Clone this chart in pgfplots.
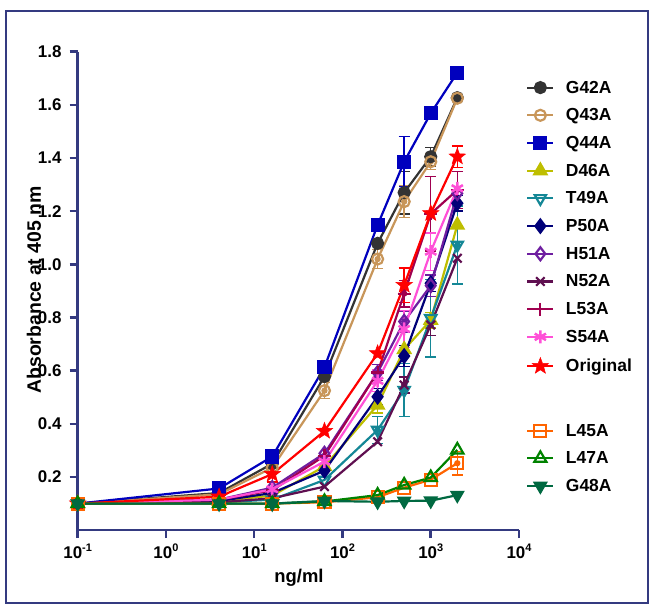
\documentclass[border=0pt]{standalone}
\usepackage{fontspec}
\setmainfont{Liberation Sans}
\usepackage{pgfplots}
\pgfplotsset{compat=1.18}
\usetikzlibrary{plotmarks}
\definecolor{axc}{RGB}{52,58,128}
\definecolor{cg42}{RGB}{51,51,51}
\definecolor{cq43}{RGB}{200,150,90}
\definecolor{cq44}{RGB}{0,0,190}
\definecolor{cd46}{RGB}{190,190,0}
\definecolor{ct49}{RGB}{20,135,150}
\definecolor{cp50}{RGB}{0,0,120}
\definecolor{ch51}{RGB}{110,30,160}
\definecolor{cn52}{RGB}{95,15,80}
\definecolor{cl53}{RGB}{160,0,80}
\definecolor{cs54}{RGB}{255,80,215}
\definecolor{corig}{RGB}{255,0,0}
\definecolor{cl45}{RGB}{255,100,0}
\definecolor{cl47}{RGB}{0,130,0}
\definecolor{cg48}{RGB}{0,105,65}
\pgfdeclareplotmark{fstar}{%
  \pgfpathmoveto{\pgfpointpolar{90}{1.15\pgfplotmarksize}}%
  \pgfpathlineto{\pgfpointpolar{126}{0.48\pgfplotmarksize}}%
  \pgfpathlineto{\pgfpointpolar{162}{1.15\pgfplotmarksize}}%
  \pgfpathlineto{\pgfpointpolar{198}{0.48\pgfplotmarksize}}%
  \pgfpathlineto{\pgfpointpolar{234}{1.15\pgfplotmarksize}}%
  \pgfpathlineto{\pgfpointpolar{270}{0.48\pgfplotmarksize}}%
  \pgfpathlineto{\pgfpointpolar{306}{1.15\pgfplotmarksize}}%
  \pgfpathlineto{\pgfpointpolar{342}{0.48\pgfplotmarksize}}%
  \pgfpathlineto{\pgfpointpolar{18}{1.15\pgfplotmarksize}}%
  \pgfpathlineto{\pgfpointpolar{54}{0.48\pgfplotmarksize}}%
  \pgfpathclose\pgfusepathqfillstroke}
\newcommand\ls{\rule[-3bp]{0pt}{15.5bp}}
\newcommand\sx[1]{10\raisebox{6.5bp}{\fontsize{11}{12}\selectfont #1}}
\begin{document}
\begin{tikzpicture}
\useasboundingbox (0,0) rectangle (672bp,609bp);
\draw[axc, line width=2bp] (6bp,6bp) rectangle (648bp,598bp);
\begin{axis}[
  at={(77.7bp,78.8bp)}, anchor=south west,
  scale only axis, width=441.3bp, height=478.5bp,
  xmode=log, xmin=0.1, xmax=10000, ymin=0, ymax=1.8,
  axis lines=left, clip=false,
  axis line style={-, draw=axc, line width=2.5bp},
  xtick={0.1,1,10,100,1000,10000},
  xticklabels={\sx{-1},\sx{0},\sx{1},\sx{2},\sx{3},\sx{4}},
  xminorticks=false, yminorticks=false,
  ytick={0.2,0.4,0.6,0.8,1.0,1.2,1.4,1.6,1.8},
  tick align=outside, major tick length=8bp,
  every tick/.style={draw=axc, line width=2.5bp},
  /pgf/number format/.cd, fixed, fixed zerofill, precision=1, assume math mode=true, /pgfplots/.cd,
  tick label style={font=\bfseries\fontsize{17}{20}\selectfont, text=black},
  yticklabel style={anchor=east, inner sep=0pt, xshift=-8bp},
  xticklabel style={anchor=base, inner sep=0pt, yshift=-20bp},
  xlabel={ng/ml}, ylabel={Absorbance at 405 nm},
  every axis x label/.style={at={(axis description cs:0.5015,-0.1)}, anchor=center, font=\bfseries\fontsize{18.5}{22}\selectfont},
  every axis y label/.style={at={(axis description cs:-0.099,0.502)}, anchor=center, rotate=90, font=\bfseries\fontsize{19.5}{22}\selectfont},
  legend style={draw=none, fill=none, at={(axis description cs:1.016,0.94)}, anchor=north west, inner sep=0pt, row sep=13.7bp, column sep=11.5bp, font=\bfseries\fontsize{17.5}{20}\selectfont, nodes={inner sep=0pt}},
  legend cell align=left,
  legend image code/.code={\draw[mark repeat=2,mark phase=2] plot coordinates {(0bp,0bp) (13bp,0bp) (26bp,0bp)};},
  every axis plot/.append style={line width=2.2bp},
  error bars/error mark options={rotate=90, mark size=5.5bp, line width=1.4bp},
  error bars/error bar style={line width=1.4bp},
]
% error bars (drawn first)
\addplot[forget plot, only marks, mark=none, cg42, error bars/.cd, y dir=both, y explicit] coordinates {(500,1.27) +- (0,0.08) (1000,1.405) +- (0,0.035)};
\addplot[forget plot, only marks, mark=none, cq43, error bars/.cd, y dir=both, y explicit] coordinates {(16,0.235) +- (0,0.015) (62.5,0.525) +- (0,0.03) (250,1.02) +- (0,0.035) (500,1.236) +- (0,0.06) (1000,1.386) +- (0,0.03)};
\addplot[forget plot, only marks, mark=none, cq44, error bars/.cd, y dir=both, y explicit] coordinates {(500,1.386) +- (0,0.094)};
\addplot[forget plot, only marks, mark=none, cd46, error bars/.cd, y dir=both, y explicit] coordinates {(250,0.471) +- (0,0.03) (1000,0.79) +- (0,0.03)};
\addplot[forget plot, only marks, mark=none, ct49, error bars/.cd, y dir=both, y explicit] coordinates {(250,0.377) +- (0,0.05) (500,0.527) +- (0,0.1) (1000,0.797) +- (0,0.145) (2000,1.073) +- (0,0.147)};
\addplot[forget plot, only marks, mark=none, cp50, error bars/.cd, y dir=both, y explicit] coordinates {(250,0.502) +- (0,0.03) (500,0.655) +- (0,0.04) (1000,0.929) +- (0,0.03) (2000,1.23) +- (0,0.03)};
\addplot[forget plot, only marks, mark=none, ch51, error bars/.cd, y dir=both, y explicit] coordinates {(250,0.593) +- (0,0.03) (500,0.785) +- (0,0.04) (1000,0.92) +- (0,0.04)};
\addplot[forget plot, only marks, mark=none, cn52, error bars/.cd, y dir=both, y explicit] coordinates {(500,0.546) +- (0,0.03) (1000,0.772) +- (0,0.04)};
\addplot[forget plot, only marks, mark=none, cl53, error bars/.cd, y dir=both, y explicit] coordinates {(500,0.89) +- (0,0.05) (1000,1.19) +- (0,0.14) (2000,1.28) +- (0,0.07)};
\addplot[forget plot, only marks, mark=none, cs54, error bars/.cd, y dir=both, y explicit] coordinates {(250,0.562) +- (0,0.04) (500,0.757) +- (0,0.07) (1000,1.048) +- (0,0.07)};
\addplot[forget plot, only marks, mark=none, corig, error bars/.cd, y dir=both, y explicit] coordinates {(16,0.211) +- (0,0.03) (500,0.922) +- (0,0.065) (2000,1.405) +- (0,0.04)};
\addplot[forget plot, only marks, mark=none, cl45, error bars/.cd, y dir=both, y explicit] coordinates {(2000,0.252) +- (0,0.045)};
% series
\addplot[cg42, mark=*, mark size=5.5bp] coordinates {(0.1,0.10) (4,0.14) (16,0.25) (62.5,0.578) (250,1.079) (500,1.27) (1000,1.405) (2000,1.627)};
\addlegendentry{\ls G42A}
\addplot[cq43, mark=o, mark size=5.5bp, mark options={fill=white}] coordinates {(0.1,0.10) (4,0.135) (16,0.235) (62.5,0.525) (250,1.02) (500,1.236) (1000,1.386) (2000,1.625)};
\addlegendentry{\ls Q43A}
\addplot[cq44, mark=square*, mark size=6bp] coordinates {(0.1,0.10) (4,0.157) (16,0.277) (62.5,0.613) (250,1.148) (500,1.386) (1000,1.568) (2000,1.721)};
\addlegendentry{\ls Q44A}
\addplot[cd46, mark=triangle*, mark size=7bp] coordinates {(0.1,0.10) (4,0.11) (16,0.13) (62.5,0.24) (250,0.471) (500,0.68) (1000,0.79) (2000,1.148)};
\addlegendentry{\ls D46A}
\addplot[ct49, mark=triangle, mark size=6.5bp, mark options={rotate=180, fill=white}] coordinates {(0.1,0.10) (4,0.105) (16,0.115) (62.5,0.189) (250,0.377) (500,0.527) (1000,0.797) (2000,1.073)};
\addlegendentry{\ls T49A}
\addplot[cp50, mark=diamond*, mark size=6.5bp] coordinates {(0.1,0.10) (4,0.11) (16,0.14) (62.5,0.224) (250,0.502) (500,0.655) (1000,0.929) (2000,1.23)};
\addlegendentry{\ls P50A}
\addplot[ch51, mark=diamond, mark size=6.5bp, mark options={fill=white}] coordinates {(0.1,0.10) (4,0.115) (16,0.16) (62.5,0.289) (250,0.593) (500,0.785) (1000,0.92) (2000,1.267)};
\addlegendentry{\ls H51A}
\addplot[cn52, mark=x, mark size=6bp] coordinates {(0.1,0.10) (4,0.105) (16,0.12) (62.5,0.164) (250,0.333) (500,0.546) (1000,0.772) (2000,1.023)};
\addlegendentry{\ls N52A}
\addplot[cl53, mark=+, mark size=6.5bp] coordinates {(0.1,0.10) (4,0.115) (16,0.15) (62.5,0.28) (250,0.593) (500,0.89) (1000,1.19) (2000,1.28)};
\addlegendentry{\ls L53A}
\addplot[cs54, mark=asterisk, mark size=6.5bp, mark options={line width=2.5bp}] coordinates {(0.1,0.10) (4,0.115) (16,0.154) (62.5,0.258) (250,0.562) (500,0.757) (1000,1.048) (2000,1.286)};
\addlegendentry{\ls S54A}
\addplot[corig, mark=fstar, mark size=7.5bp, mark options={line width=0.5bp}] coordinates {(0.1,0.10) (4,0.126) (16,0.211) (62.5,0.373) (250,0.665) (500,0.922) (1000,1.192) (2000,1.405)};
\addlegendentry{\ls Original}
\addlegendimage{empty legend}
\addlegendentry{\rule[-3bp]{0pt}{24.5bp}}
\addplot[cl45, mark=square, mark size=6bp, mark options={fill=white}] coordinates {(0.1,0.10) (4,0.10) (16,0.10) (62.5,0.105) (250,0.124) (500,0.16) (1000,0.19) (2000,0.252)};
\addlegendentry{\ls L45A}
\addplot[cl47, mark=triangle, mark size=7bp, mark options={fill=white}] coordinates {(0.1,0.10) (4,0.10) (16,0.10) (62.5,0.108) (250,0.132) (500,0.17) (1000,0.198) (2000,0.302)};
\addlegendentry{\ls L47A}
\addplot[cg48, mark=triangle*, mark size=6.5bp, mark options={rotate=180}] coordinates {(0.1,0.10) (4,0.10) (16,0.10) (62.5,0.11) (250,0.107) (500,0.11) (1000,0.111) (2000,0.132)};
\addlegendentry{\ls G48A}
\end{axis}
\end{tikzpicture}
\end{document}
